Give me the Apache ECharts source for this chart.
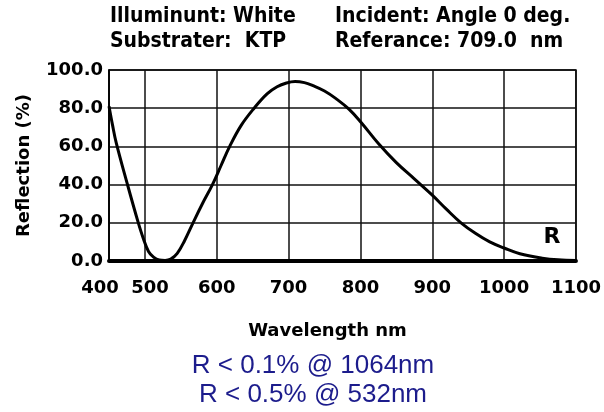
<!DOCTYPE html>
<html>
<head>
<meta charset="utf-8">
<script src="https://cdn.jsdelivr.net/npm/echarts@6/dist/echarts.min.js"></script>
<style>
  html, body { margin: 0; padding: 0; background: #fff; }
  #main { width: 604px; height: 412px; }
</style>
</head>
<body>
<div id="main"></div>
<script>
// 数据：反射率曲线
var wavelength = [450, 455, 460, 475, 490, 498, 505, 512, 520, 528, 536, 545, 555, 567, 580, 594, 606, 618, 634, 652,
  670, 684, 697, 709, 722, 734, 750, 766, 784, 801, 825, 850, 875, 900, 920, 940, 960, 980, 1000, 1022, 1053, 1075, 1100];
var reflection = [81, 71, 62, 41, 21, 11.5, 5, 2, 0.5, 0.3, 1, 4, 10.5, 20, 30, 40, 50, 60, 71, 80,
  87.5, 91.2, 93.2, 94, 93.4, 91.8, 89, 85, 79.5, 72.5, 61.5, 51.5, 43, 34.5, 27, 20, 14.5, 10, 6.8, 3.8, 1.5, 0.6, 0.3];

var xTickValues = [450, 500, 600, 700, 800, 900, 1000, 1100];
var xTickLabels = ['400', '500', '600', '700', '800', '900', '1000', '1100'];

var headerLeft = ['Illuminunt: White', 'Substrater:  KTP'];
var headerRight = ['Incident: Angle 0 deg.', 'Referance: 709.0  nm'];
var notes = ['R < 0.1% @ 1064nm', 'R < 0.5% @ 532nm'];

var boldFont = "'DejaVu Sans', sans-serif";
var headFont = "'DejaVu Sans Condensed', 'DejaVu Sans', sans-serif";

var myChart = echarts.init(document.getElementById('main'));

var points = wavelength.map(function (w, i) { return [w, reflection[i]]; });

var graphics = [];
headerLeft.forEach(function (t, i) {
  graphics.push({ type: 'text', left: 110, top: 6 + i * 25,
    style: { text: t, font: 'bold 21px ' + headFont, fill: '#000' } });
});
headerRight.forEach(function (t, i) {
  graphics.push({ type: 'text', left: 335, top: 6 + i * 25,
    style: { text: t, font: 'bold 21px ' + headFont, fill: '#000' } });
});
notes.forEach(function (t, i) {
  graphics.push({ type: 'text', x: 313, y: 366 + i * 29,
    style: { text: t, font: "26px 'Liberation Sans', Arial, sans-serif", fill: '#1c1c8c',
      textAlign: 'center', textVerticalAlign: 'middle' } });
});
graphics.push({ type: 'text', x: 552, y: 237,
  style: { text: 'R', font: 'bold 22px ' + boldFont, fill: '#000',
    textAlign: 'center', textVerticalAlign: 'middle' } });

var option = {
  animation: false,
  backgroundColor: '#fff',
  grid: {
    left: 109, right: 21.5, top: 70, bottom: 151,
    show: true, borderColor: '#000', borderWidth: 1.5
  },
  xAxis: {
    type: 'value',
    min: 450, max: 1100,
    name: 'Wavelength nm',
    nameLocation: 'middle',
    nameGap: 61,
    nameTextStyle: { fontFamily: boldFont, fontWeight: 'bold', fontSize: 18, color: '#000', padding: [0, 30, 0, 0] },
    axisLine: { show: true, lineStyle: { color: '#000', width: 4 } },
    axisTick: { show: false, customValues: xTickValues },
    splitLine: { show: true, lineStyle: { color: '#111', width: 1.5 } },
    axisLabel: {
      customValues: xTickValues,
      margin: 18,
      fontFamily: boldFont, fontWeight: 'bold', fontSize: 18, color: '#000',
      formatter: function (v) {
        var i = xTickValues.indexOf(v);
        var s = i >= 0 ? xTickLabels[i] : '';
        if (i === 0) return '{a|' + s + '}';
        if (i === 1) return '{b|' + s + '}';
        return s;
      },
      rich: {
        a: { fontFamily: boldFont, fontWeight: 'bold', fontSize: 18, color: '#000', padding: [0, 18, 0, 0] },
        b: { fontFamily: boldFont, fontWeight: 'bold', fontSize: 18, color: '#000', padding: [0, 0, 0, 10] }
      }
    }
  },
  yAxis: {
    type: 'value',
    min: 0, max: 100, interval: 20,
    name: 'Reflection (%)',
    nameLocation: 'middle',
    nameGap: 76,
    nameTextStyle: { fontFamily: boldFont, fontWeight: 'bold', fontSize: 18, color: '#000' },
    axisLine: { show: true, lineStyle: { color: '#000', width: 1.5 } },
    axisTick: { show: false },
    splitLine: { show: true, lineStyle: { color: '#111', width: 1.5 } },
    axisLabel: {
      margin: 6,
      fontFamily: boldFont, fontWeight: 'bold', fontSize: 18, color: '#000',
      formatter: function (v) { return v.toFixed(1); }
    }
  },
  graphic: graphics,
  series: [{
    type: 'line',
    data: points,
    smooth: 0.4,
    showSymbol: false,
    lineStyle: { color: '#000', width: 3 }
  }]
};
myChart.setOption(option);
</script>
</body>
</html>
